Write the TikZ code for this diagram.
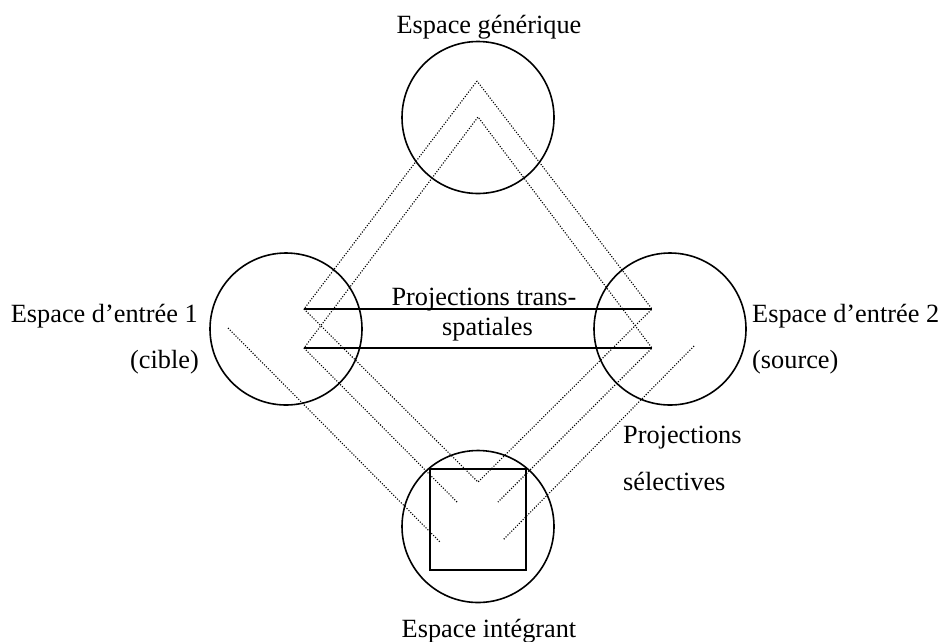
\documentclass[tikz,border=0pt]{standalone}
\usepackage{fontspec}
\setmainfont{Liberation Serif}
\begin{document}
\begin{tikzpicture}[x=1pt,y=-1pt,
  space/.style={circle,draw,line width=1.6pt,minimum size=152pt,inner sep=0pt},
  lbl/.style={inner sep=0pt,font=\fontsize{26.3}{31}\selectfont},
  proj/.style={line width=1.1pt,dash pattern=on 1.1pt off 1.6pt},
  solidline/.style={line width=1.7pt}]
\useasboundingbox (0,0) rectangle (944,641);
% spaces
\node[space] (gen) at (478,117.5) {};
\node[space] (in1) at (286,329) {};
\node[space] (in2) at (670,329) {};
\node[space] (blend) at (478,526.5) {};
% blend square
\coordinate (sqa) at (430,469);
\coordinate (sqb) at (526,570);
\draw[line width=1.6pt] (sqa) rectangle (sqb);
% projection points
\coordinate (oa) at (477,81);
\coordinate (ol) at (304,309);
\coordinate (ob) at (478,482);
\coordinate (or) at (652,309);
\coordinate (ia) at (478,117);
\coordinate (il) at (304,348);
\coordinate (ir) at (652,348);
\coordinate (ile) at (457,502);
\coordinate (ire) at (498,502);
\coordinate (as) at (228,328);
\coordinate (ae) at (440,542);
\coordinate (bs) at (694,346);
\coordinate (be) at (503,540);
% dotted projections
\draw[proj] (oa) -- (ol) -- (ob) -- (or) -- cycle;
\draw[proj] (ile) -- (il) -- (ia) -- (ir) -- (ire);
\draw[proj] (as) -- (ae);
\draw[proj] (bs) -- (be);
% cross-space lines
\draw[solidline] (ol) -- (or);
\draw[solidline] (il) -- (ir);
% labels
\node[lbl,anchor=base] (tgen) at (489,33) {Espace générique};
\node[lbl,anchor=base east] (tin1) at (198,322) {Espace d’entrée 1};
\node[lbl,anchor=base east] (tcib) at (199,368) {(cible)};
\node[lbl,anchor=base west] (tin2) at (752,322) {Espace d’entrée 2};
\node[lbl,anchor=base west] (tsrc) at (752,368) {(source)};
\node[lbl,anchor=base] (tpt1) at (484,305) {Projections trans-};
\node[lbl,anchor=base] (tpt2) at (487.5,335) {spatiales};
\node[lbl,anchor=base west] (tps1) at (623,443) {Projections};
\node[lbl,anchor=base west] (tps2) at (623,490) {sélectives};
\node[lbl,anchor=base] (tbl) at (489,637) {Espace intégrant};
\end{tikzpicture}
\end{document}
